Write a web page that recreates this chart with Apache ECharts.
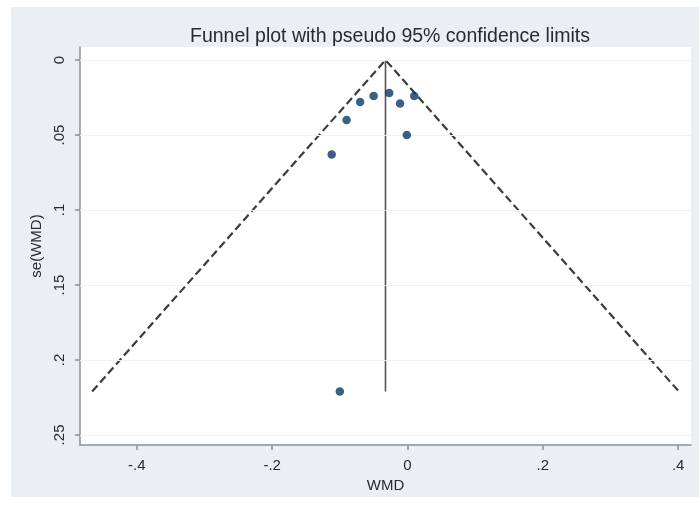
<!DOCTYPE html>
<html>
<head>
<meta charset="utf-8">
<script src="https://cdn.jsdelivr.net/npm/echarts@6/dist/echarts.min.js"></script>
<style>html,body{margin:0;padding:0;background:#fff;}#c{width:699px;height:516px;}</style>
</head>
<body>
<div id="c"></div>
<script>
// Tick labels
const xTicks = [-0.4, -0.2, 0, 0.2, 0.4];
const yTicks = [0, 0.05, 0.1, 0.15, 0.2, 0.25];
// Study estimates
const wmd   = [-0.112, -0.090, -0.070, -0.050, -0.027, -0.011, 0.010, -0.001, -0.100];
const seWmd = [0.063, 0.040, 0.028, 0.024, 0.022, 0.029, 0.024, 0.050, 0.221];
// Pooled estimate and funnel limits
const pooledWMD = -0.0325;
const maxSE = 0.221;
const funnelLeftX = -0.466;
const funnelRightX = 0.401;

const fmt = v => {
  if (Math.abs(v) < 1e-9) return '0';
  let s = String(+v.toFixed(3));
  return s.replace('0.', '.');
};

const chart = echarts.init(document.getElementById('c'), null, {renderer: 'canvas'});
const axisCol = '#8c9196';
const ff = 'Liberation Sans, Arial, sans-serif';
chart.setOption({
  backgroundColor: '#ffffff',
  animation: false,
  graphic: [{
    type: 'rect', z: -10, silent: true,
    shape: {x: 11, y: 7, width: 688, height: 490},
    style: {fill: '#e9eff3'}
  }],
  title: {
    text: 'Funnel plot with pseudo 95% confidence limits',
    left: 385, top: 22, textAlign: 'center',
    textStyle: {fontFamily: ff, fontSize: 19.5, fontWeight: 'normal', color: '#2a2a2a'}
  },
  grid: {left: 80, right: 8, top: 47, bottom: 71, show: true, backgroundColor: '#ffffff', borderWidth: 0},
  xAxis: {
    type: 'value', min: -0.484, max: 0.419,
    name: 'WMD', nameLocation: 'middle', nameGap: 29,
    nameTextStyle: {fontFamily: ff, fontSize: 15, color: '#2a2a2a'},
    axisLine: {show: true, onZero: false, lineStyle: {color: axisCol, width: 1.5}},
    axisTick: {show: true, customValues: xTicks, length: 5, lineStyle: {color: axisCol, width: 1.5}},
    axisLabel: {customValues: xTicks, formatter: fmt, margin: 13, fontFamily: ff, fontSize: 15, color: '#2a2a2a'},
    splitLine: {show: false}
  },
  yAxis: {
    type: 'value', inverse: true, min: -0.0087, max: 0.2567,
    name: 'se(WMD)', nameLocation: 'middle', nameGap: 36, nameRotate: 90,
    nameTextStyle: {fontFamily: ff, fontSize: 15, color: '#2a2a2a'},
    axisLine: {show: true, onZero: false, lineStyle: {color: axisCol, width: 1.5}},
    axisTick: {show: true, customValues: yTicks, length: 5, lineStyle: {color: axisCol, width: 1.5}},
    axisLabel: {customValues: yTicks, formatter: fmt, rotate: 90, margin: 13, fontFamily: ff, fontSize: 15, color: '#2a2a2a'},
    splitLine: {show: false}
  },
  series: [
    {
      type: 'line', silent: true, symbol: 'none', z: 1,
      data: [],
      markLine: {
        silent: true, symbol: 'none', label: {show: false},
        lineStyle: {color: '#edf2f5', width: 1, type: 'solid'},
        data: yTicks.map(v => ({yAxis: v}))
      }
    },
    {
      type: 'line', silent: true, symbol: 'none', z: 3,
      lineStyle: {color: '#3c3c3c', width: 2.2, type: [8, 4]},
      data: [[funnelLeftX, maxSE], [pooledWMD, 0], [funnelRightX, maxSE]]
    },
    {
      type: 'line', silent: true, symbol: 'none', z: 3,
      lineStyle: {color: '#555555', width: 1.6},
      data: [[pooledWMD, 0], [pooledWMD, maxSE]]
    },
    {
      type: 'scatter', z: 5, symbol: 'circle', symbolSize: 8.5,
      itemStyle: {color: '#0b3766'},
      data: wmd.map((x, i) => [x, seWmd[i]])
    }
  ]
});
</script>
</body>
</html>
